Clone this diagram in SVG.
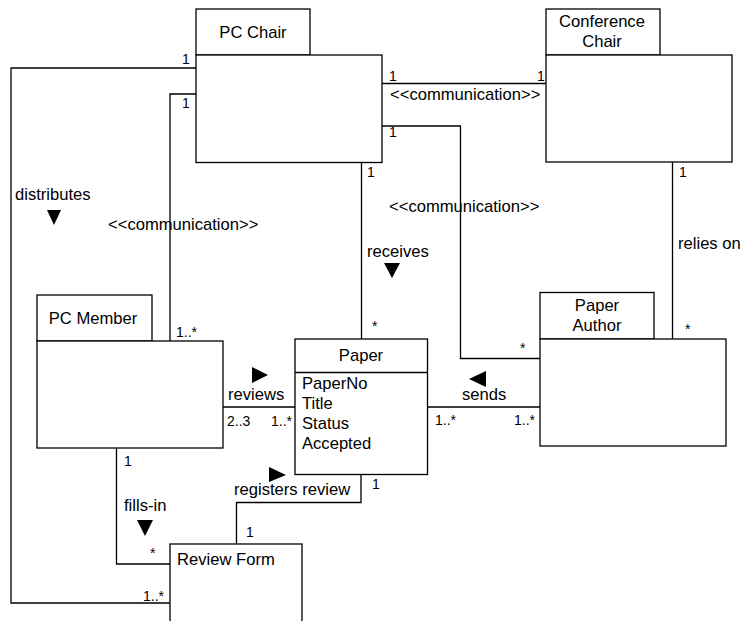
<svg xmlns="http://www.w3.org/2000/svg" width="742" height="621" viewBox="0 0 742 621">
<style>
.box{fill:#fff;stroke:#000;stroke-width:1.3}
.ln{fill:none;stroke:#000;stroke-width:1.3}
.t{font-family:"Liberation Sans",Arial,sans-serif;font-size:16.6px;fill:#000}
.m{font-family:"Liberation Sans",Arial,sans-serif;font-size:14px;fill:#000}
.c{text-anchor:middle}
.tri{fill:#000}
</style>
<rect width="742" height="621" fill="#fff"/>
<g id="connectors">
<polyline class="ln" points="196,68 11,68 11,603 170,603"/>
<polyline class="ln" points="196,94 170,94 170,341"/>
<polyline class="ln" points="382,83.5 546,83.5"/>
<polyline class="ln" points="382,126 460.5,126 460.5,358.5 540,358.5"/>
<polyline class="ln" points="361.5,162.5 361.5,339"/>
<polyline class="ln" points="672.5,162 672.5,339"/>
<polyline class="ln" points="222.5,407 295,407"/>
<polyline class="ln" points="427.5,407 540,407"/>
<polyline class="ln" points="116.5,448 116.5,564 170,564"/>
<polyline class="ln" points="361,475 361,502.5 236.5,502.5 236.5,544"/>
<text class="m" x="182" y="64">1</text>
<text class="m" x="182" y="108">1</text>
<text class="t" x="15" y="200">distributes</text>
<polygon class="tri" points="47,210 61,210 54,225"/>
<text class="t" x="108" y="230">&lt;&lt;communication&gt;&gt;</text>
<text class="m" x="367" y="177">1</text>
<text class="m" x="389" y="81">1</text>
<text class="m" x="537" y="81">1</text>
<text class="t" x="390" y="100">&lt;&lt;communication&gt;&gt;</text>
<text class="m" x="389" y="137">1</text>
<text class="m" x="679" y="177">1</text>
<text class="t" x="389" y="212">&lt;&lt;communication&gt;&gt;</text>
<text class="t" x="678" y="249">relies on</text>
<text class="m" x="685" y="334">*</text>
<text class="t" x="367" y="257">receives</text>
<polygon class="tri" points="384,263 400,263 392,278"/>
<text class="m" x="372" y="331">*</text>
<text class="m" x="520" y="353">*</text>
<text class="m" x="176" y="337">1..*</text>
<polygon class="tri" points="252,367 252,383 268,375"/>
<text class="t" x="228" y="400">reviews</text>
<text class="m" x="227" y="426">2..3</text>
<text class="m" x="271" y="426">1..*</text>
<polygon class="tri" points="486,371 486,387 469,379"/>
<text class="t" x="462" y="400">sends</text>
<text class="m" x="435" y="425">1..*</text>
<text class="m" x="514" y="425">1..*</text>
<text class="m" x="372" y="489">1</text>
<text class="m" x="124" y="466">1</text>
<text class="t" x="124" y="511">fills-in</text>
<polygon class="tri" points="137,520 153,520 145,536"/>
<text class="m" x="150" y="558">*</text>
<text class="m" x="143" y="601">1..*</text>
<polygon class="tri" points="269,467 269,482 286,475"/>
<text class="t" x="234" y="495">registers review</text>
<text class="m" x="246" y="537">1</text>
</g>
<g id="pc-chair">
<rect class="box" x="196" y="9" width="114" height="46"/>
<rect class="box" x="196" y="55" width="186" height="107.5"/>
<text class="t c" x="253" y="38">PC Chair</text>
</g>
<g id="conference-chair">
<rect class="box" x="546" y="9" width="114" height="46"/>
<rect class="box" x="546" y="55" width="186" height="107"/>
<text class="t c" x="602" y="27">Conference</text>
<text class="t c" x="602" y="47">Chair</text>
</g>
<g id="pc-member">
<rect class="box" x="37" y="295" width="115" height="46"/>
<rect class="box" x="37" y="341" width="186" height="107"/>
<text class="t c" x="93" y="324">PC Member</text>
</g>
<g id="paper">
<rect class="box" x="295" y="339" width="132.5" height="135.5"/>
<line class="ln" x1="295" y1="372.5" x2="427.5" y2="372.5"/>
<text class="t c" x="361" y="361">Paper</text>
<text class="t" x="302" y="389">PaperNo</text>
<text class="t" x="302" y="409">Title</text>
<text class="t" x="302" y="429">Status</text>
<text class="t" x="302" y="449">Accepted</text>
</g>
<g id="paper-author">
<rect class="box" x="540" y="292.5" width="114" height="46.5"/>
<rect class="box" x="540" y="339" width="186" height="107"/>
<text class="t c" x="597" y="311">Paper</text>
<text class="t c" x="597" y="331">Author</text>
</g>
<g id="review-form">
<rect class="box" x="170" y="544" width="132" height="90"/>
<text class="t" x="177" y="565">Review Form</text>
</g>
</svg>
